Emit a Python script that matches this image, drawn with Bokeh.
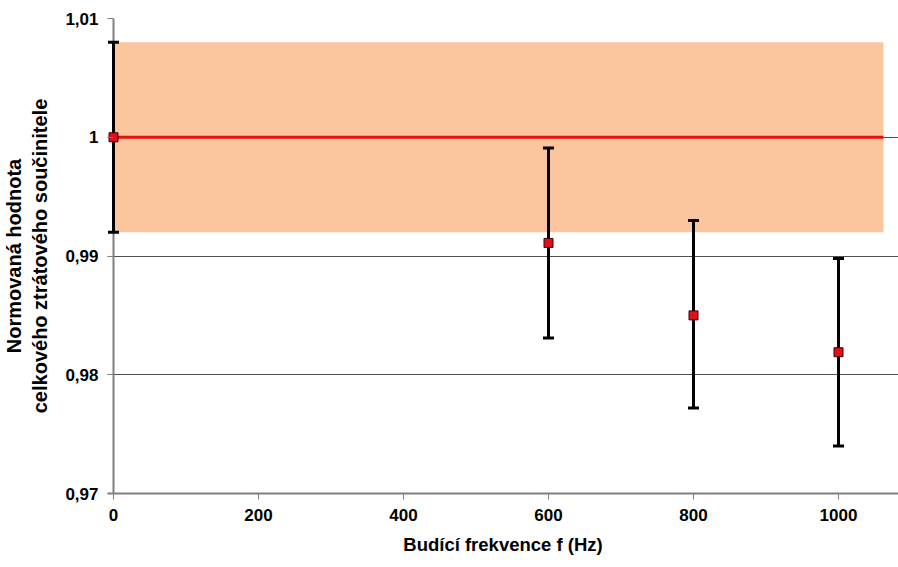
from bokeh.plotting import figure
from bokeh.models import Range1d, FixedTicker, ColumnDataSource, Span
from bokeh.embed import file_html
from bokeh.resources import INLINE

# Data
freq = [0, 600, 800, 1000]
value = [1.0, 0.9911, 0.9850, 0.9819]
err_lower = [0.992, 0.9831, 0.9772, 0.9740]
err_upper = [1.008, 0.9991, 0.9930, 0.9898]
band_x = [0, 1062]
band_low = [0.992, 0.992]
band_high = [1.008, 1.008]
ref_x = [0, 1062]
ref_y = [1.0, 1.0]
y_ticks = [0.97, 0.98, 0.99, 1.0, 1.01]
y_tick_labels = ["0,97", "0,98", "0,99", "1", "1,01"]
x_ticks = [0, 200, 400, 600, 800, 1000]

FONT = "Liberation Sans"
PX_PER_HZ = 0.725
PAD = 6  # small frame padding left of x = 0 so the first point is not clipped

p = figure(width=898, height=567, output_backend="svg", toolbar_location=None,
           x_range=Range1d(-PAD / PX_PER_HZ, (898 - 113) / PX_PER_HZ),
           y_range=Range1d(0.97, 1.01),
           min_border_left=113 - PAD, min_border_top=18, min_border_bottom=74,
           min_border_right=0)
p.outline_line_color = None
p.background_fill_color = "white"
p.border_fill_color = "white"

# band
p.varea(x=band_x, y1=band_low, y2=band_high, fill_color="#fbc59d",
        fill_alpha=1.0, level="underlay")

# vertical axis line at x = 0
p.add_layout(Span(location=0, dimension="height", line_color="#7f7f7f",
                  line_width=2, level="underlay"))

# reference line
p.line(ref_x, ref_y, line_color="#e41010", line_width=3)

src = ColumnDataSource(dict(x=freq, y=value, lo=err_lower, hi=err_upper))

# error bars
p.segment(x0="x", y0="lo", x1="x", y1="hi", source=src, line_color="black",
          line_width=3)
p.scatter("x", "lo", source=src, marker="dash", size=11, line_color="black",
          line_width=3)
p.scatter("x", "hi", source=src, marker="dash", size=11, line_color="black",
          line_width=3)

# points
p.scatter("x", "y", source=src, marker="square", size=9, fill_color="#e0101a",
          line_color="#400000", line_width=1)

# axes
p.xaxis.ticker = FixedTicker(ticks=x_ticks)
p.yaxis.ticker = FixedTicker(ticks=y_ticks)
p.yaxis.major_label_overrides = {t: l for t, l in zip(y_ticks, y_tick_labels)}
for ax in (p.xaxis, p.yaxis):
    ax.axis_line_color = "#7f7f7f"
    ax.axis_line_width = 2
    ax.major_tick_line_color = "#7f7f7f"
    ax.major_tick_line_width = 1
    ax.minor_tick_line_color = None
    ax.major_label_text_font = FONT
    ax.major_label_text_font_style = "bold"
    ax.major_label_text_font_size = "17px"
    ax.major_label_text_color = "black"
    ax.axis_label_text_font = FONT
    ax.axis_label_text_font_style = "bold"
    ax.axis_label_text_color = "black"

p.xaxis.major_tick_in = 0
p.xaxis.major_tick_out = 6
p.yaxis.axis_line_color = None
p.yaxis.major_tick_in = PAD
p.yaxis.major_tick_out = 0

p.xaxis.axis_label = "Budící frekvence f (Hz)"
p.yaxis.axis_label = "Normovaná hodnota\ncelkového ztrátového součinitele"
p.xaxis.axis_label_text_font_size = "18.5px"
p.yaxis.axis_label_text_font_size = "20px"
p.xaxis.major_label_standoff = 9
p.yaxis.major_label_standoff = 9
p.xaxis.axis_label_standoff = 10
p.yaxis.axis_label_standoff = 11

p.xgrid.grid_line_color = None
p.ygrid.ticker = FixedTicker(ticks=[0.98, 0.99, 1.0, 1.01])
p.ygrid.grid_line_color = "#505050"
p.ygrid.grid_line_width = 1

open("out.html", "w").write(file_html(p, INLINE))
